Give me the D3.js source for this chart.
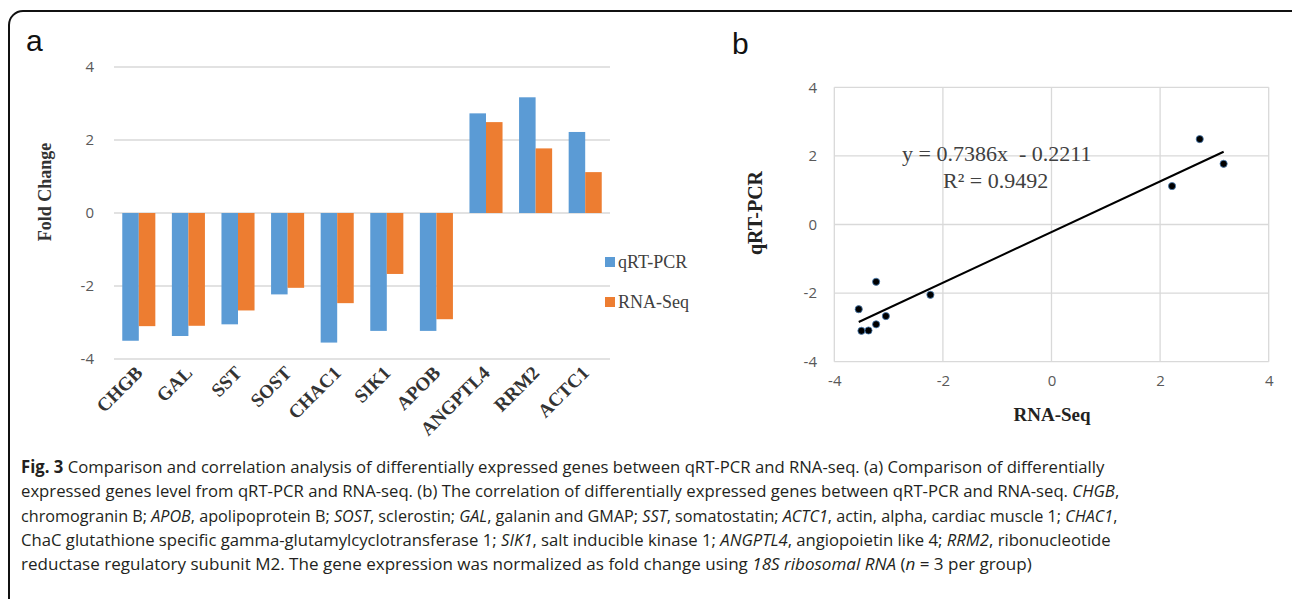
<!DOCTYPE html>
<html><head><meta charset="utf-8">
<script src="https://cdn.jsdelivr.net/npm/d3@7"></script>
<style>body{margin:0;background:#fff;} svg{display:block}</style>
</head><body>
<svg id="c" width="1292" height="599"></svg>
<script>
// ---------- data ----------
const genes = ["CHGB","GAL","SST","SOST","CHAC1","SIK1","APOB","ANGPTL4","RRM2","ACTC1"];
const qrtPcr = [-3.50,-3.37,-3.05,-2.23,-3.55,-3.23,-3.23,2.73,3.17,2.22];
const rnaSeq = [-3.10,-3.09,-2.67,-2.05,-2.47,-1.67,-2.91,2.49,1.77,1.12];
const seriesNames = ["qRT-PCR","RNA-Seq"];
const barTicks = [-4,-2,0,2,4];
const scatterXTicks = [-4,-2,0,2,4];
const scatterYTicks = [-4,-2,0,2,4];
const slope = 0.7386, intercept = -0.2211;
const eqLabel = "y = 0.7386x  - 0.2211";
const r2Label = "R² = 0.9492";
const captionLines = [
  [["Fig. 3","b"],[" Comparison and correlation analysis of differentially expressed genes between qRT-PCR and RNA-seq. (a) Comparison of differentially",""]],
  [["expressed genes level from qRT-PCR and RNA-seq. (b) The correlation of differentially expressed genes between qRT-PCR and RNA-seq. ",""],["CHGB","i"],[",",""]],
  [["chromogranin B; ",""],["APOB","i"],[", apolipoprotein B; ",""],["SOST","i"],[", sclerostin; ",""],["GAL","i"],[", galanin and GMAP; ",""],["SST","i"],[", somatostatin; ",""],["ACTC1","i"],[", actin, alpha, cardiac muscle 1; ",""],["CHAC1","i"],[",",""]],
  [["ChaC glutathione specific gamma-glutamylcyclotransferase 1; ",""],["SIK1","i"],[", salt inducible kinase 1; ",""],["ANGPTL4","i"],[", angiopoietin like 4; ",""],["RRM2","i"],[", ribonucleotide",""]],
  [["reductase regulatory subunit M2. The gene expression was normalized as fold change using ",""],["18S ribosomal RNA","i"],[" (",""],["n","i"],[" = 3 per group)",""]]
];
const captionEnds = [1105,1120,1118,1112,1032];

// ---------- styles ----------
const BLUE = "#5B9BD5", ORANGE = "#ED7D31", GRID = "#d9d9d9", TICK = "#595959";
const SERIF = "'Liberation Serif','Times New Roman',serif";
const SANS = "'Open Sans','Noto Sans',sans-serif";
const fmt = d => String(d);
const svg = d3.select("#c");

// frame
svg.append("rect").attr("x",9).attr("y",11).attr("width",1300).attr("height",620)
  .attr("rx",14).attr("fill","none").attr("stroke","#111").attr("stroke-width",2);

// panel letters
svg.append("text").attr("x",26).attr("y",51).text("a")
  .attr("font-family","'Liberation Sans',Arial,sans-serif").attr("font-size",30).attr("fill","#111");
svg.append("text").attr("x",732).attr("y",54).text("b")
  .attr("font-family","'Liberation Sans',Arial,sans-serif").attr("font-size",30).attr("fill","#111");

// ---------- panel a: grouped bars ----------
const gA = svg.append("g");
const x0 = d3.scaleBand().domain(genes).range([114,610]).paddingInner(1/3).paddingOuter(1/6);
const x1 = d3.scaleBand().domain(seriesNames).range([0,x0.bandwidth()]);
const yA = d3.scaleLinear().domain([-4,4]).range([359,67]);
const colorA = d3.scaleOrdinal().domain(seriesNames).range([BLUE,ORANGE]);

gA.selectAll("line.grid").data(barTicks).join("line")
  .attr("x1",114).attr("x2",610).attr("y1",d=>yA(d)).attr("y2",d=>yA(d))
  .attr("stroke",GRID).attr("stroke-width",1.3);

const yAxisA = d3.axisLeft(yA).tickValues(barTicks).tickSize(0).tickPadding(0).tickFormat(fmt);
const ya = gA.append("g").attr("transform","translate(94,0)").call(yAxisA);
ya.select(".domain").remove();
ya.selectAll("text").attr("font-family",SANS).attr("font-size",15).attr("fill",TICK);

const rows = genes.map((g,i)=>({gene:g, vals:[{s:seriesNames[0],v:qrtPcr[i]},{s:seriesNames[1],v:rnaSeq[i]}]}));
gA.selectAll("g.grp").data(rows).join("g").attr("transform",d=>`translate(${x0(d.gene)},0)`)
  .selectAll("rect").data(d=>d.vals).join("rect")
  .attr("x",d=>x1(d.s)).attr("width",x1.bandwidth())
  .attr("y",d=>yA(Math.max(0,d.v))).attr("height",d=>Math.abs(yA(d.v)-yA(0)))
  .attr("fill",d=>colorA(d.s));

// category labels
gA.selectAll("text.cat").data(genes).join("text")
  .attr("transform",d=>`translate(${x0(d)+x0.bandwidth()/2+5},${374}) rotate(-45)`)
  .attr("text-anchor","end").attr("font-family",SERIF).attr("font-weight","bold")
  .attr("font-size",19).attr("fill","#333").text(d=>d);

// y title
gA.append("text").attr("transform","translate(51,192) rotate(-90)").attr("text-anchor","middle")
  .attr("font-family",SERIF).attr("font-weight","bold").attr("font-size",18).attr("fill","#333").text("Fold Change");

// legend
const leg = gA.selectAll("g.leg").data(seriesNames).join("g")
  .attr("transform",(d,i)=>`translate(605,${257+i*40})`);
leg.append("rect").attr("width",10).attr("height",10).attr("fill",d=>colorA(d));
leg.append("text").attr("x",13).attr("y",11).attr("font-family",SERIF).attr("font-size",18)
  .attr("fill","#404040").text(d=>d);

// ---------- panel b: scatter ----------
const gB = svg.append("g");
const xB = d3.scaleLinear().domain([-4,4]).range([834.3,1268.7]);
const yB = d3.scaleLinear().domain([-4,4]).range([361.7,87.3]);

gB.selectAll("line.vg").data(scatterXTicks).join("line")
  .attr("x1",d=>xB(d)).attr("x2",d=>xB(d)).attr("y1",yB(-4)).attr("y2",yB(4))
  .attr("stroke",GRID).attr("stroke-width",1.3);
gB.selectAll("line.hg").data(scatterYTicks).join("line")
  .attr("x1",xB(-4)).attr("x2",xB(4)).attr("y1",d=>yB(d)).attr("y2",d=>yB(d))
  .attr("stroke",GRID).attr("stroke-width",1.3);

const xaB = gB.append("g").attr("transform",`translate(0,${yB(-4)+14})`)
  .call(d3.axisBottom(xB).tickValues(scatterXTicks).tickSize(0).tickPadding(0).tickFormat(fmt));
xaB.select(".domain").remove();
xaB.selectAll("text").attr("font-family",SANS).attr("font-size",15).attr("fill",TICK);
const yaB = gB.append("g").attr("transform",`translate(817,0)`)
  .call(d3.axisLeft(yB).tickValues(scatterYTicks).tickSize(0).tickPadding(0).tickFormat(fmt));
yaB.select(".domain").remove();
yaB.selectAll("text").attr("font-family",SANS).attr("font-size",15).attr("fill",TICK);

// trendline
const xmin = d3.min(qrtPcr), xmax = d3.max(qrtPcr);
gB.append("line").attr("x1",xB(xmin)).attr("y1",yB(slope*xmin+intercept))
  .attr("x2",xB(xmax)).attr("y2",yB(slope*xmax+intercept))
  .attr("stroke","#000").attr("stroke-width",2);

// points
gB.selectAll("circle").data(qrtPcr.map((v,i)=>[v,rnaSeq[i]])).join("circle")
  .attr("cx",d=>xB(d[0])).attr("cy",d=>yB(d[1])).attr("r",3.6)
  .attr("fill","#000").attr("stroke","#4a7fb5").attr("stroke-width",0.8);

// equation
gB.append("text").attr("x",902).attr("y",161).attr("font-family",SERIF).attr("font-size",22)
  .attr("fill","#404040").style("white-space","pre").text(eqLabel);
gB.append("text").attr("x",943).attr("y",188).attr("font-family",SERIF).attr("font-size",22)
  .attr("fill","#404040").style("white-space","pre").text(r2Label);

// axis titles
gB.append("text").attr("x",1052).attr("y",421).attr("text-anchor","middle")
  .attr("font-family",SERIF).attr("font-weight","bold").attr("font-size",19).attr("fill","#222").text("RNA-Seq");
gB.append("text").attr("transform","translate(762,213) rotate(-90)").attr("text-anchor","middle")
  .attr("font-family",SERIF).attr("font-weight","bold").attr("font-size",20).attr("fill","#222").text("qRT-PCR");

// ---------- caption ----------
const capX = 21, capY0 = 473, capDy = 24.3;
captionLines.forEach((segs,i)=>{
  const t = svg.append("text").attr("font-family",SANS).attr("font-size",17).attr("fill","#231f20")
    .style("white-space","pre");
  segs.forEach(([s,f])=>{
    const sp = t.append("tspan").text(s);
    if(f==="b") sp.attr("font-weight","bold");
    if(f==="i") sp.attr("font-style","italic");
  });
  const w = t.node().getComputedTextLength();
  const sx = (captionEnds[i]-capX)/w;
  t.attr("transform",`translate(${capX},${capY0+i*capDy}) scale(${sx},1)`);
});
</script>
</body></html>
